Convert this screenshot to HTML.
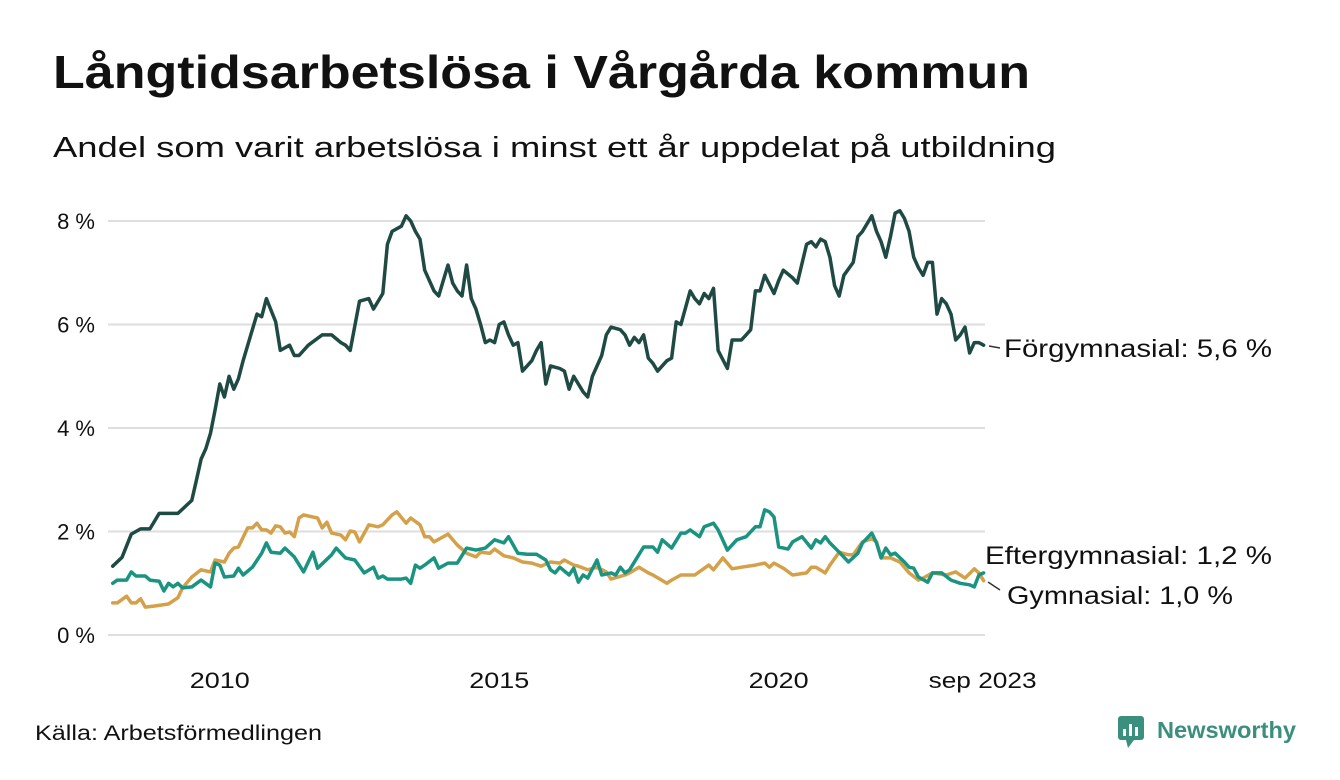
<!DOCTYPE html>
<html><head><meta charset="utf-8"><style>
html,body{margin:0;padding:0;background:#fff;}
svg{display:block;font-family:"Liberation Sans","DejaVu Sans",sans-serif;}
</style></head><body>
<svg id="chart" width="1340" height="780" viewBox="0 0 1340 780" xmlns="http://www.w3.org/2000/svg">
<text x="53" y="88" font-size="46" font-weight="bold" fill="#111" textLength="977" lengthAdjust="spacingAndGlyphs">Långtidsarbetslösa i Vårgårda kommun</text>
<text x="53" y="157" font-size="29" fill="#111" textLength="1003" lengthAdjust="spacingAndGlyphs">Andel som varit arbetslösa i minst ett år uppdelat på utbildning</text>
<g id="grid"></g><g id="xaxis"></g><g id="series"></g><g id="labels"></g>
<text x="35" y="740" font-size="21" fill="#111" textLength="287" lengthAdjust="spacingAndGlyphs">Källa: Arbetsförmedlingen</text>
<g>
<rect x="1118" y="716" width="26" height="24" rx="3" fill="#3a8f7f"/>
<polygon points="1126,740 1134,740 1128,748" fill="#3a8f7f"/>
<rect x="1123" y="729" width="3" height="7" fill="#fff"/><rect x="1129" y="724" width="3" height="12" fill="#fff"/><rect x="1135" y="727" width="3" height="9" fill="#fff"/>
<text x="1157" y="738" font-size="23" font-weight="bold" fill="#3a8f7f" textLength="139" lengthAdjust="spacingAndGlyphs">Newsworthy</text>
</g>
</svg>
<script>
const yTicks=[0,2,4,6,8];
const yTickLabels=["0 %","2 %","4 %","6 %","8 %"];
const xTickMonths=[24,84,144,188];
const xTickLabels=["2010","2015","2020","sep 2023"];
const forgMonths=[1,3,5,7,9,11,13,15,18,19,20,21,22,23,24,25,26,27,28,29,32,33,34,36,37,39,40,41,43,46,48,50,51,52,54,56,57,59,60,61,63,64,65,66,67,68,70,71,72,73,74,75,76,77,78,79,80,81,82,83,84,85,86,87,88,89,91,92,93,94,95,97,98,99,100,102,103,104,106,107,108,110,111,112,113,114,115,116,117,118,120,121,122,123,125,126,127,128,129,130,131,133,134,136,137,138,139,140,141,143,144,145,147,148,150,151,152,153,154,155,156,157,158,160,161,162,164,165,166,167,168,169,170,171,172,173,174,175,176,177,178,179,180,181,182,183,184,185,186,187,188];
const forgValues=[1.33,1.5,1.95,2.05,2.05,2.35,2.35,2.35,2.6,3.0,3.4,3.6,3.9,4.35,4.85,4.6,5.0,4.75,4.95,5.3,6.2,6.15,6.5,6.05,5.5,5.6,5.4,5.4,5.6,5.8,5.8,5.65,5.6,5.5,6.45,6.5,6.3,6.6,7.55,7.8,7.9,8.1,8.0,7.8,7.65,7.05,6.65,6.55,6.85,7.15,6.8,6.65,6.55,7.15,6.5,6.3,6.0,5.65,5.7,5.65,6.0,6.05,5.8,5.6,5.65,5.1,5.3,5.5,5.65,4.85,5.2,5.15,5.1,4.75,5.0,4.7,4.6,5.0,5.4,5.8,5.95,5.9,5.8,5.6,5.75,5.65,5.8,5.35,5.25,5.1,5.3,5.35,6.05,6.0,6.65,6.5,6.4,6.6,6.5,6.7,5.5,5.15,5.7,5.7,5.8,5.9,6.65,6.65,6.95,6.6,6.85,7.05,6.9,6.8,7.55,7.6,7.5,7.65,7.6,7.3,6.75,6.55,6.95,7.2,7.7,7.8,8.1,7.8,7.6,7.3,7.7,8.15,8.2,8.05,7.8,7.3,7.1,6.95,7.2,7.2,6.2,6.5,6.4,6.2,5.7,5.8,5.95,5.45,5.65,5.65,5.6];
const efterMonths=[1,2,4,5,6,8,9,11,12,13,14,15,16,18,20,22,23,24,25,27,28,29,31,33,34,35,37,38,40,42,44,45,48,49,51,53,55,57,58,59,60,63,64,65,66,67,68,70,71,73,75,77,79,81,83,85,86,88,90,92,94,95,96,97,99,100,101,102,103,105,106,108,109,110,111,112,115,117,118,119,121,123,124,125,127,128,130,131,133,135,137,139,140,141,142,143,144,146,147,149,151,152,153,154,155,157,159,161,162,164,165,166,167,168,169,171,172,173,174,176,177,179,181,183,185,186,187,188];
const efterValues=[1.0,1.06,1.06,1.22,1.14,1.14,1.06,1.04,0.85,1.0,0.93,1.0,0.91,0.93,1.06,0.93,1.39,1.35,1.12,1.14,1.29,1.16,1.31,1.58,1.78,1.6,1.58,1.68,1.51,1.22,1.6,1.29,1.55,1.68,1.49,1.45,1.2,1.31,1.1,1.14,1.08,1.08,1.1,1.0,1.35,1.29,1.35,1.49,1.29,1.39,1.39,1.68,1.64,1.68,1.84,1.78,1.9,1.58,1.56,1.56,1.45,1.26,1.2,1.31,1.16,1.29,1.02,1.16,1.1,1.45,1.16,1.2,1.16,1.31,1.2,1.26,1.7,1.7,1.6,1.84,1.68,1.97,1.97,2.03,1.9,2.09,2.16,2.03,1.64,1.84,1.9,2.09,2.09,2.42,2.38,2.28,1.7,1.66,1.8,1.9,1.68,1.84,1.78,1.9,1.78,1.6,1.41,1.58,1.78,1.97,1.78,1.49,1.68,1.55,1.58,1.41,1.31,1.29,1.12,1.02,1.2,1.2,1.06,1.0,0.97,0.93,1.16,1.2];
const gymnMonths=[1,2,4,5,6,7,8,10,13,15,16,18,20,22,23,25,26,27,28,30,31,32,33,34,35,36,37,38,39,40,41,42,44,45,46,47,48,50,51,52,53,54,56,58,59,61,62,64,65,67,68,69,70,73,75,77,79,80,82,83,85,87,89,91,93,95,97,98,100,101,103,105,107,108,111,112,114,116,117,120,121,123,125,126,129,130,132,134,136,139,141,142,143,145,147,150,151,152,154,155,157,159,160,162,164,165,166,168,170,171,172,174,175,177,180,182,184,186,187,188];
const gymnValues=[0.62,0.62,0.75,0.62,0.62,0.7,0.54,0.56,0.6,0.72,0.91,1.12,1.26,1.22,1.45,1.41,1.58,1.68,1.7,2.07,2.07,2.16,2.03,2.03,1.97,2.11,2.09,1.97,1.99,1.9,2.26,2.32,2.28,2.26,2.07,2.18,1.97,1.93,1.84,2.01,1.99,1.8,2.13,2.09,2.13,2.32,2.38,2.16,2.26,2.13,1.9,1.9,1.8,1.95,1.74,1.58,1.51,1.6,1.58,1.66,1.53,1.49,1.41,1.39,1.33,1.41,1.39,1.45,1.35,1.33,1.26,1.31,1.22,1.08,1.16,1.2,1.31,1.2,1.16,1.0,1.06,1.16,1.16,1.16,1.35,1.26,1.49,1.28,1.31,1.35,1.39,1.31,1.39,1.29,1.16,1.2,1.31,1.31,1.2,1.35,1.6,1.55,1.55,1.8,1.86,1.8,1.49,1.49,1.41,1.31,1.2,1.06,1.1,1.2,1.16,1.22,1.1,1.28,1.2,1.05];

const NS="http://www.w3.org/2000/svg";
const X0=108,X1=985,Y0=635,YPER=51.75,MW=(X1-X0)/188.3;
function xs(m){return X0+m*MW;}
function ys(v){return Y0-v*YPER;}
function mk(tag,attrs,parent){const e=document.createElementNS(NS,tag);for(const k in attrs)e.setAttribute(k,attrs[k]);parent.appendChild(e);return e;}
const grid=document.getElementById('grid');
yTicks.forEach((t,i)=>{
  const l=mk('line',{x1:X0,x2:X1,y1:ys(t),y2:ys(t),stroke:'#dedede','stroke-width':2},grid);
  
  
  const tx=mk('text',{x:95,y:ys(t)+8,'text-anchor':'end','font-size':22,fill:'#111'},grid);
  tx.textContent=yTickLabels[i];
  
  
});
const xa=document.getElementById('xaxis');
const xLabelW=[60,60,60,108];
xTickMonths.forEach((m,i)=>{
  const tx=mk('text',{x:xs(m)+(i==3?-1:0),y:688,'text-anchor':'middle','font-size':22,fill:'#111',textLength:xLabelW[i],lengthAdjust:'spacingAndGlyphs'},xa);
  tx.textContent=xTickLabels[i];
  
  
});
const sg=document.getElementById('series');
function line(ms,vs,color,name){
  const d=ms.map((m,i)=>(i?'L':'M')+xs(m).toFixed(1)+','+ys(vs[i]).toFixed(1)).join(' ');
  const p=mk('path',{d:d,fill:'none',stroke:color,'stroke-width':3.5,'stroke-linejoin':'round','stroke-linecap':'round'},sg);
  
  
}
line(gymnMonths,gymnValues,'#d4a04a','line-gymnasial');
line(efterMonths,efterValues,'#1a9480','line-eftergymnasial');
line(forgMonths,forgValues,'#1f4a43','line-forgymnasial');
const lg=document.getElementById('labels');
function lab(txt,x,y,w,name){const t=mk('text',{x:x,y:y,'font-size':25,fill:'#111',textLength:w,lengthAdjust:'spacingAndGlyphs'},lg);t.textContent=txt;

}
mk('line',{x1:989,x2:1000,y1:346,y2:348,stroke:'#333','stroke-width':1.5},lg);
lab('Förgymnasial: 5,6 %',1004,357,268,'label-forgymnasial');
lab('Eftergymnasial: 1,2 %',985,564,287,'label-eftergymnasial');
mk('line',{x1:988,x2:1000,y1:582,y2:590,stroke:'#333','stroke-width':1.5},lg);
lab('Gymnasial: 1,0 %',1007,604,226,'label-gymnasial');
</script>
</body></html>
